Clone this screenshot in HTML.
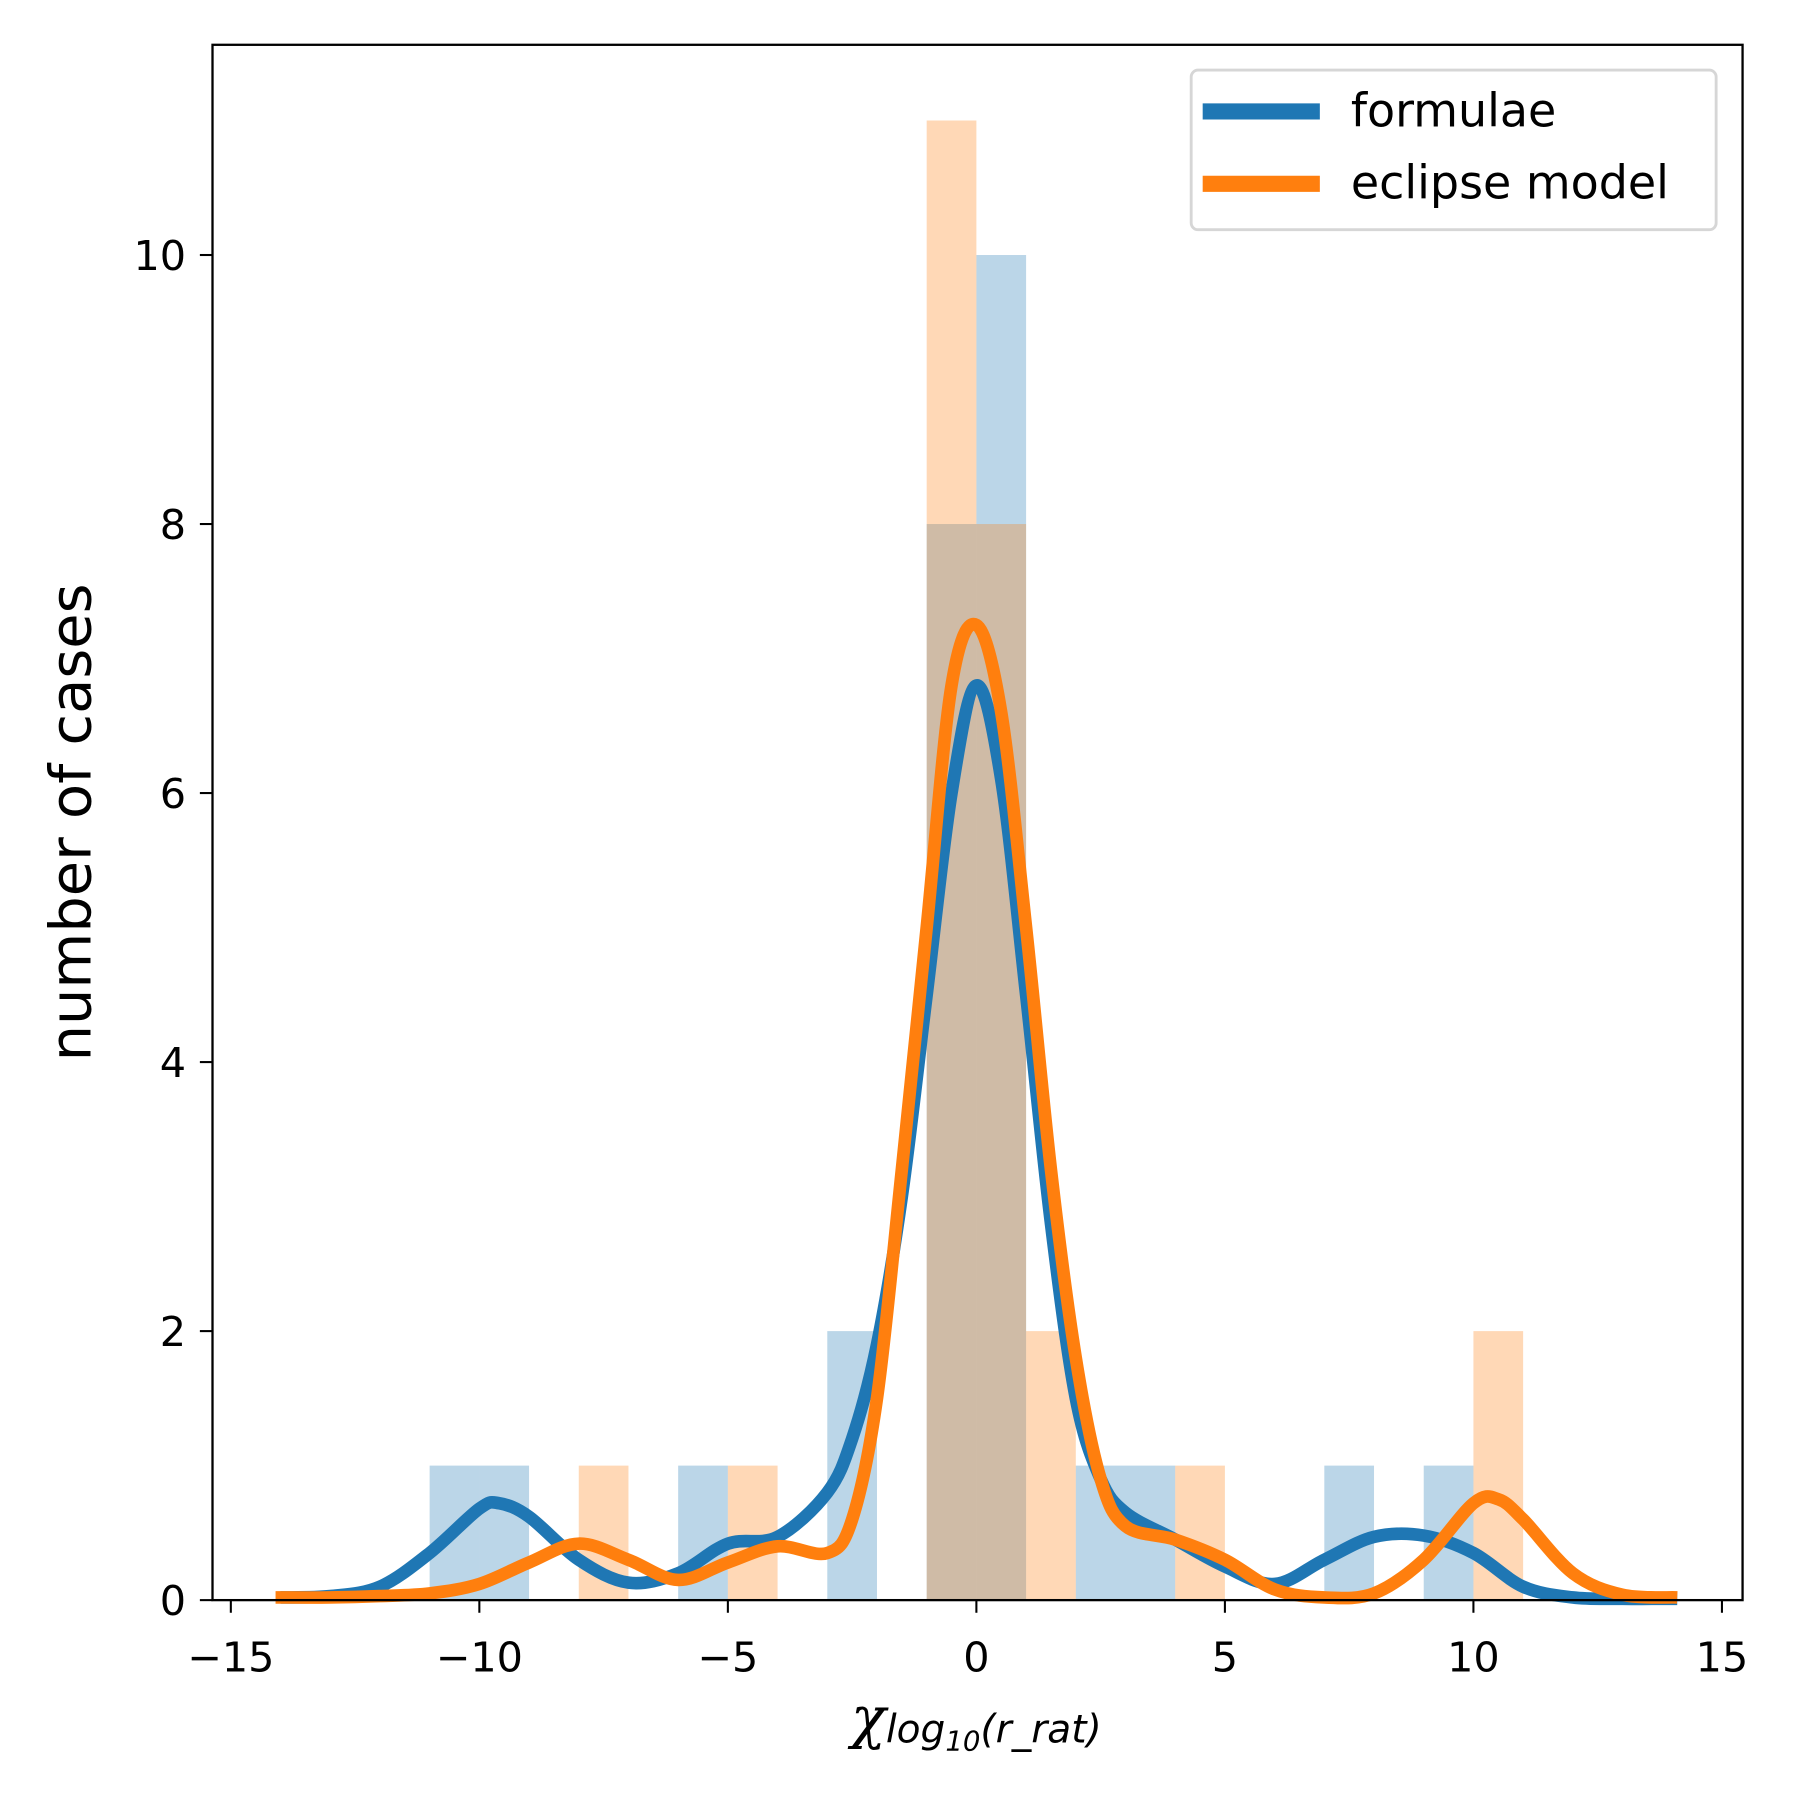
<!DOCTYPE html>
<html><head><meta charset="utf-8"><style>html,body{margin:0;padding:0;background:#fff}svg{display:block}text{font-family:"DejaVu Sans","Liberation Sans",sans-serif}</style></head>
<body>
<svg id="chart" width="1800" height="1800" viewBox="0 0 1567 1567" xmlns="http://www.w3.org/2000/svg">
<g id="bars"></g>
<g id="curves"></g>
<rect x="185" y="39" width="1332" height="1354" fill="none" stroke="#000" stroke-width="2"/>
<g id="ticks"></g>
<text transform="translate(79,716) rotate(-90)" text-anchor="middle" font-size="50">number of cases</text>
<text x="850" y="1512" text-anchor="middle" font-style="italic"><tspan font-size="50" font-family="'DejaVu Serif',serif">χ</tspan><tspan font-size="34" dy="5">log</tspan><tspan font-size="24" dy="7">10</tspan><tspan font-size="34" dy="-7">(r_rat)</tspan></text>
<g>
<rect x="1037" y="61" width="457" height="139" rx="6" fill="#fff" fill-opacity="0.8" stroke="#d6d6d6" stroke-width="2.5"/>
<line x1="1047" y1="97" x2="1149" y2="97" stroke="#1f77b4" stroke-width="14"/>
<text x="1176" y="110" font-size="40">formulae</text>
<line x1="1047" y1="160" x2="1149" y2="160" stroke="#ff7f0e" stroke-width="14"/>
<text x="1176" y="173" font-size="40">eclipse model</text>
</g>
</svg>
<script>
const binEdgesLeft = [-11,-10,-9,-8,-7,-6,-5,-4,-3,-2,-1,0,1,2,3,4,5,6,7,8,9,10];
const formulaeCounts = [1,1,0,0,0,1,0,0,2,0,8,10,0,1,1,0,0,0,1,0,1,0];
const eclipseCounts  = [0,0,0,1,0,0,1,0,0,0,11,8,2,0,0,1,0,0,0,0,0,2];
const kdeFormulaeX = [-14,-13,-12,-11,-10,-9.6,-9,-8,-7,-6,-5,-4,-3,-2.5,-2,-1.5,-1,-0.5,0,0.5,1,1.5,2,2.5,3,4,5,6,7,8,9,10,11,12,13,14.1];
const kdeFormulaeY = [0.02,0.03,0.1,0.35,0.68,0.72,0.62,0.3,0.13,0.2,0.42,0.47,0.8,1.2,1.9,3.0,4.5,6.0,6.8,6.1,4.5,2.8,1.5,0.9,0.65,0.45,0.25,0.12,0.3,0.47,0.48,0.35,0.1,0.02,0.01,0.01];
const kdeEclipseX = [-14.1,-13,-12,-11,-10,-9,-8,-7,-6,-5,-4,-3,-2.5,-2,-1.5,-1,-0.5,0,0.5,1,1.5,2,2.5,3,4,5,6,7,8,9,10,10.5,11,12,13,14.1];
const kdeEclipseY = [0.02,0.02,0.03,0.05,0.12,0.28,0.42,0.3,0.15,0.28,0.4,0.35,0.6,1.5,3.2,5.0,6.8,7.25,6.6,5.0,3.2,1.8,0.9,0.55,0.45,0.3,0.08,0.02,0.05,0.3,0.72,0.75,0.6,0.2,0.04,0.02];
const xTicks = [-15,-10,-5,0,5,10,15];
const yTicks = [0,2,4,6,8,10];

const NS="http://www.w3.org/2000/svg";
const X = v => 850 + v*43.27;
const Y = v => 1393 - v*117.1;
function mk(tag, attrs, parent){const e=document.createElementNS(NS,tag);for(const k in attrs)e.setAttribute(k,attrs[k]);parent.appendChild(e);return e;}
const bars=document.getElementById('bars');
binEdgesLeft.forEach((b,i)=>{
  if(formulaeCounts[i]>0){const r=mk('rect',{x:X(b),y:Y(formulaeCounts[i]),width:X(b+1)-X(b),height:Y(0)-Y(formulaeCounts[i]),fill:'#1f77b4','fill-opacity':0.3},bars);
    
    }
});
binEdgesLeft.forEach((b,i)=>{
  if(eclipseCounts[i]>0){const r=mk('rect',{x:X(b),y:Y(eclipseCounts[i]),width:X(b+1)-X(b),height:Y(0)-Y(eclipseCounts[i]),fill:'#ff7f0e','fill-opacity':0.3},bars);
    
    }
});
function smooth(xs,ys){
  const p=xs.map((x,i)=>[X(x),Y(ys[i])]);
  let d='M'+p[0][0]+','+p[0][1];
  for(let i=0;i<p.length-1;i++){
    const p0=p[Math.max(0,i-1)],p1=p[i],p2=p[i+1],p3=p[Math.min(p.length-1,i+2)];
    const c1=[p1[0]+(p2[0]-p0[0])/6,p1[1]+(p2[1]-p0[1])/6];
    const c2=[p2[0]-(p3[0]-p1[0])/6,p2[1]-(p3[1]-p1[1])/6];
    d+=' C'+c1+' '+c2+' '+p2;
  }
  return d;
}
const curves=document.getElementById('curves');
const cf=mk('path',{d:smooth(kdeFormulaeX,kdeFormulaeY),fill:'none',stroke:'#1f77b4','stroke-width':11,'stroke-linejoin':'round'},curves);


const ce=mk('path',{d:smooth(kdeEclipseX,kdeEclipseY),fill:'none',stroke:'#ff7f0e','stroke-width':11,'stroke-linejoin':'round'},curves);


const ticks=document.getElementById('ticks');
xTicks.forEach(t=>{
  const l=mk('line',{x1:X(t),x2:X(t),y1:1393,y2:1404,stroke:'#000','stroke-width':1.8},ticks);
  
  
  const tx=mk('text',{x:X(t),y:1455,'text-anchor':'middle','font-size':36},ticks);
  
  
  tx.textContent=t<0?'\u2212'+Math.abs(t):String(t);
});
yTicks.forEach(t=>{
  const l=mk('line',{x1:174,x2:185,y1:Y(t),y2:Y(t),stroke:'#000','stroke-width':1.8},ticks);
  
  
  const tx=mk('text',{x:162,y:Y(t)+13,'text-anchor':'end','font-size':36},ticks);
  
  
  tx.textContent=String(t);
});
</script>
</body></html>
